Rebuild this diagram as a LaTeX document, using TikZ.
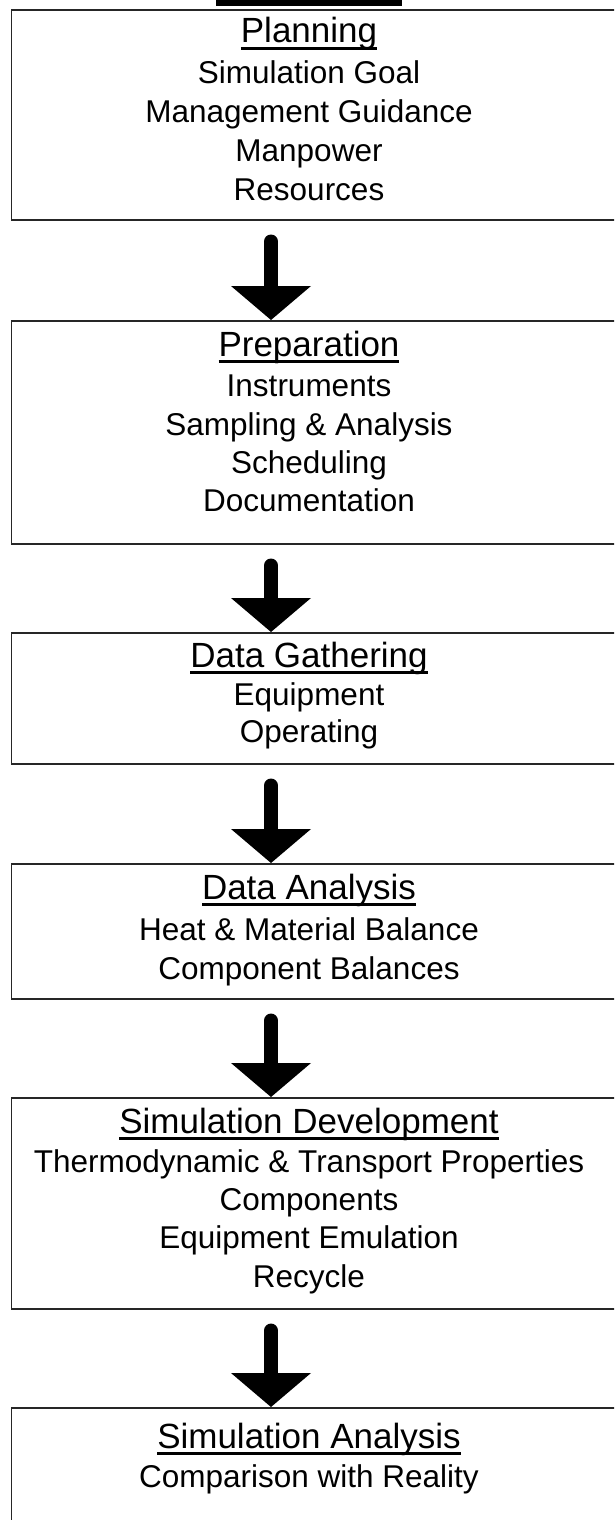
\documentclass[tikz,border=0pt]{standalone}
\usepackage{fontspec}
\setmainfont{Liberation Sans}
\usetikzlibrary{calc}

% heading text with a heavy underline
\newcommand\headtext[1]{\setbox0=\hbox{#1}\leavevmode\rlap{\raisebox{-7pt}{\rule{\wd0}{3pt}}}\box0}

% thick down arrow between two stages
\newcommand\flowarrow[2]{%
  \draw[shaft] ($(#1.south -| ax)+(0,21)$) -- ($(#2.north -| ax)+(0,-32)$);
  \fill ($(#2.north -| ax)+(-40,-34)$) -- ($(#2.north -| ax)+(40,-34)$) -- (#2.north -| ax) -- cycle;}

\begin{document}
\begin{tikzpicture}[x=1pt,y=-1pt,
  stepbox/.style={draw=black!85, line width=1.5pt, anchor=north west, inner sep=0pt, minimum width=640pt},
  head/.style={font=\fontsize{35}{40}\selectfont, anchor=base, inner sep=0pt},
  item/.style={font=\fontsize{31.5}{38}\selectfont, anchor=base, inner sep=0pt},
  shaft/.style={line width=14pt, line cap=round},
]
\useasboundingbox (0,0) rectangle (614,1520);
\clip (0,0) rectangle (614,1520);

\coordinate (ax) at (271,0);

% heading bar above the first stage
\fill (216,0) rectangle (402,6);

% stage boxes
\node[stepbox, minimum height=209.5pt] (b1) at (10.5,9.5) {};
\node[stepbox, minimum height=223pt] (b2) at (10.5,320) {};
\node[stepbox, minimum height=131pt] (b3) at (10.5,632) {};
\node[stepbox, minimum height=135pt] (b4) at (10.5,863) {};
\node[stepbox, minimum height=211pt] (b5) at (10.5,1097) {};
\node[stepbox, minimum height=200pt] (b6) at (10.5,1407) {};

% Planning
\node[head] (p0) at (309,43) {\headtext{Planning}};
\node[item] (p1) at (309,83) {Simulation Goal};
\node[item] (p2) at (309,122) {Management Guidance};
\node[item] (p3) at (309,161) {Manpower};
\node[item] (p4) at (309,200) {Resources};

% Preparation
\node[head] (q0) at (309,356) {\headtext{Preparation}};
\node[item] (q1) at (309,396) {Instruments};
\node[item] (q2) at (309,435) {Sampling \& Analysis};
\node[item] (q3) at (309,473) {Scheduling};
\node[item] (q4) at (309,511) {Documentation};

% Data Gathering
\node[head] (g0) at (309,667) {\headtext{Data Gathering}};
\node[item] (g1) at (309,705) {Equipment};
\node[item] (g2) at (309,742) {Operating};

% Data Analysis
\node[head] (d0) at (309,899) {\headtext{Data Analysis}};
\node[item] (d1) at (309,940) {Heat \& Material Balance};
\node[item] (d2) at (309,979) {Component Balances};

% Simulation Development
\node[head] (s0) at (309,1133) {\headtext{Simulation Development}};
\node[item] (s1) at (309,1172) {Thermodynamic \& Transport Properties};
\node[item] (s2) at (309,1210) {Components};
\node[item] (s3) at (309,1248) {Equipment Emulation};
\node[item] (s4) at (309,1287) {Recycle};

% Simulation Analysis
\node[head] (a0) at (309,1448) {\headtext{Simulation Analysis}};
\node[item] (a1) at (309,1487) {Comparison with Reality};

% flow arrows
\flowarrow{b1}{b2}
\flowarrow{b2}{b3}
\flowarrow{b3}{b4}
\flowarrow{b4}{b5}
\flowarrow{b5}{b6}
\end{tikzpicture}
\end{document}
